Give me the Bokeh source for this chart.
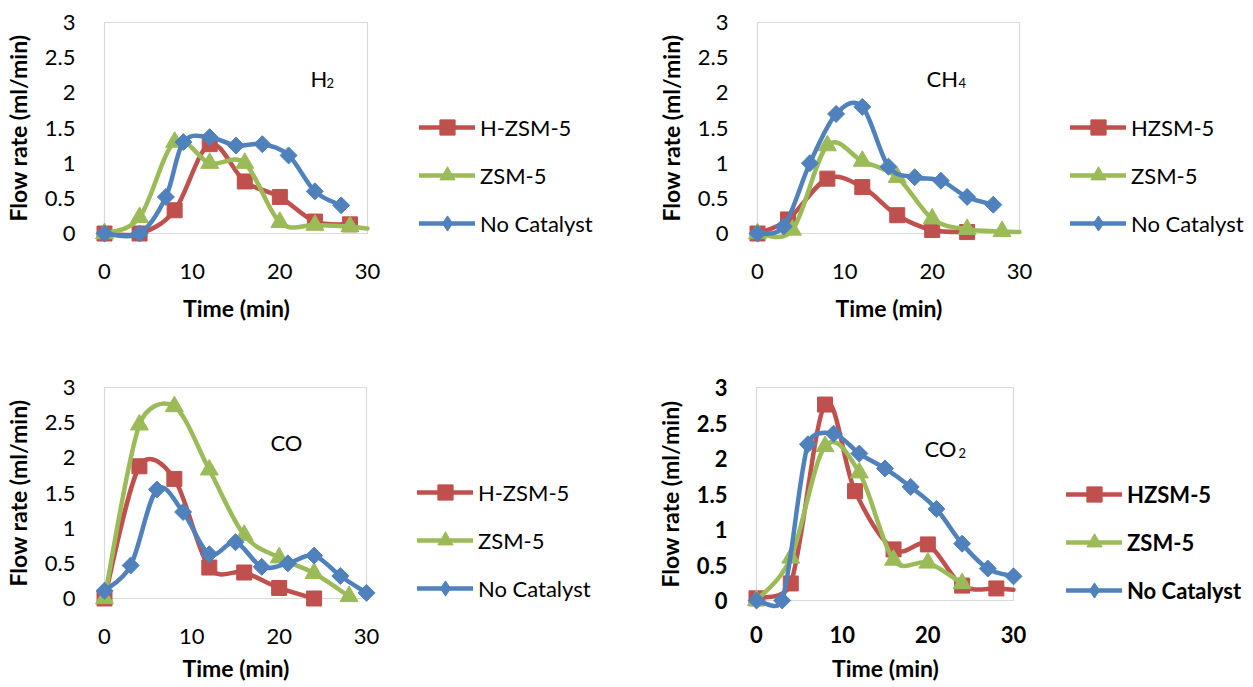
import numpy as np
from bokeh.plotting import figure
from bokeh.models import (Range1d, FixedTicker, Legend, LegendItem, Label,
                          BoxAnnotation, ColumnDataSource)
from bokeh.layouts import column, row
from bokeh.embed import file_html
from bokeh.resources import INLINE

FONT = "Lato"

# ---------------- data ----------------
x_ticks = [0, 10, 20, 30]
x_tick_labels = ["0", "10", "20", "30"]
y_ticks = [0, 0.5, 1, 1.5, 2, 2.5, 3]
y_tick_labels = ["0", "0.5", "1", "1.5", "2", "2.5", "3"]
x_title = "Time (min)"
y_title = "Flow rate (ml/min)"

# H2
h2_hzsm_t = [0, 4, 8, 12, 16, 20, 24, 28]
h2_hzsm_v = [0, 0, 0.33, 1.27, 0.74, 0.52, 0.17, 0.13]
h2_zsm_t = [0, 4, 8, 12, 16, 20, 24, 28, 30]
h2_zsm_v = [0, 0.23, 1.3, 1.0, 1.0, 0.16, 0.12, 0.1, 0.07]
h2_noc_t = [0, 4, 7, 9, 12, 15, 18, 21, 24, 27]
h2_noc_v = [0, 0, 0.52, 1.3, 1.37, 1.25, 1.27, 1.11, 0.6, 0.4]

# CH4
ch4_hzsm_t = [0, 3.5, 8, 12, 16, 20, 24]
ch4_hzsm_v = [0, 0.2, 0.78, 0.66, 0.26, 0.05, 0.02]
ch4_zsm_t = [0, 4, 8, 12, 16, 20, 24, 28, 30]
ch4_zsm_v = [0, 0.05, 1.25, 1.03, 0.8, 0.21, 0.06, 0.03, 0.02]
ch4_noc_t = [0, 3, 6, 9, 12, 15, 18, 21, 24, 27]
ch4_noc_v = [0, 0.1, 1.0, 1.7, 1.8, 0.95, 0.8, 0.75, 0.52, 0.41]

# CO
co_hzsm_t = [0, 4, 8, 12, 16, 20, 24]
co_hzsm_v = [0, 1.88, 1.7, 0.44, 0.37, 0.15, 0.0]
co_zsm_t = [0, 4, 8, 12, 16, 20, 24, 28]
co_zsm_v = [0, 2.47, 2.73, 1.83, 0.9, 0.58, 0.36, 0.03]
co_noc_t = [0, 3, 6, 9, 12, 15, 18, 21, 24, 27, 30]
co_noc_v = [0.11, 0.47, 1.55, 1.23, 0.63, 0.8, 0.45, 0.5, 0.61, 0.32, 0.08]

# CO2
co2_hzsm_t = [0, 4, 8, 11.5, 16, 20, 24, 28, 30]
co2_hzsm_v = [0.03, 0.24, 2.76, 1.54, 0.72, 0.79, 0.21, 0.17, 0.15]
co2_zsm_t = [0, 4, 8, 12, 16, 20, 24]
co2_zsm_v = [0, 0.6, 2.17, 1.8, 0.57, 0.53, 0.24]
co2_noc_t = [0, 3, 6, 9, 12, 15, 18, 21, 24, 27, 30]
co2_noc_v = [0, 0, 2.2, 2.35, 2.07, 1.86, 1.6, 1.29, 0.8, 0.45, 0.34]

# number of points carrying a marker (last point of some series has none)
h2_zsm_marked = 8
ch4_zsm_marked = 8
co2_hzsm_marked = 8

RED, GREEN, BLUE = "#C0504D", "#9BBB59", "#4F81BD"


def smooth_source(t, v, ppx, ppy):
    """Bezier segments in the style of a spreadsheet 'smoothed line'
    (Catmull-Rom handles, capped at half the segment length on screen)."""
    x = np.asarray(t, float)
    y = np.asarray(v, float)
    n = len(x)
    P = np.stack([x * ppx, y * ppy], axis=1)
    Pp = np.vstack([P[:1], P, P[-1:]])
    c0 = np.zeros((n - 1, 2))
    c1 = np.zeros((n - 1, 2))
    for i in range(n - 1):
        p0, p1, p2, p3 = Pp[i], Pp[i + 1], Pp[i + 2], Pp[i + 3]
        d12 = np.hypot(*(p2 - p1))
        d02 = np.hypot(*(p2 - p0))
        d13 = np.hypot(*(p3 - p1))
        f0 = 1 / 6.0 if d02 / 6.0 < d12 / 2.0 else (d12 / 2.0) / d02
        f1 = 1 / 6.0 if d13 / 6.0 < d12 / 2.0 else (d12 / 2.0) / d13
        c0[i] = p1 + (p2 - p0) * f0
        c1[i] = p2 - (p3 - p1) * f1
    return ColumnDataSource(dict(
        x0=x[:-1], y0=y[:-1], x1=x[1:], y1=y[1:],
        cx0=c0[:, 0] / ppx, cy0=c0[:, 1] / ppy,
        cx1=c1[:, 0] / ppx, cy1=c1[:, 1] / ppy,
    ))


# colour, marker, size, angle, legend marker (drawn hidden under the real one)
STYLES = [(RED, "square", 15, 0.0, None),
          (GREEN, "triangle", 18, 0.0, None),
          (BLUE, "square", 12, np.pi / 4, "diamond")]


def make_panel(canvas, frame, series, names, legend_top_left, sym, sym_pos, sub_off,
               bold=False, tick_standoff=12, title_standoff=15):
    pad = 12
    cl, ct, cw, chh = canvas
    fl, fr, ft, fb = frame
    ppx = (fr - fl) / 30.0
    ppy = (fb - ft) / 3.0
    right_edge = cl + cw - 1          # frame reaches almost to the canvas edge (legend lives inside)
    title_w = 106                      # approximate width of the x title text
    p = figure(frame_width=int(right_edge - (fl - pad)), frame_height=int(fb - ft + 2 * pad),
               min_border_left=int(fl - pad - cl), min_border_right=1,
               min_border_top=int(ft - pad - ct), min_border_bottom=int(ct + chh - fb - pad),
               x_range=Range1d(-pad / ppx, 30 + (right_edge - fr) / ppx),
               y_range=Range1d(-pad / ppy, 3 + pad / ppy),
               title=x_title, title_location="below",
               output_backend="svg", toolbar_location=None)
    p.outline_line_color = None
    p.background_fill_color = "white"
    p.border_fill_color = "white"
    p.xgrid.visible = False
    p.ygrid.visible = False

    # x-axis title, centred under the 0-30 box
    p.title.align = "left"
    p.title.offset = ((fl + fr) / 2.0 - title_w / 2.0) - (fl - pad)
    p.title.text_font = FONT
    p.title.text_font_size = "23px"
    p.title.text_font_style = "bold"
    p.title.text_color = "black"
    p.title.vertical_align = "top"
    p.title.standoff = title_standoff

    p.add_layout(BoxAnnotation(left=0, right=30, bottom=0, top=3, fill_alpha=0,
                               line_color="#808080", line_width=1.2, level="underlay"))

    for ax, ticks, labels in ((p.xaxis[0], x_ticks, x_tick_labels), (p.yaxis[0], y_ticks, y_tick_labels)):
        ax.ticker = FixedTicker(ticks=ticks)
        ax.major_label_overrides = {float(k): s for k, s in zip(ticks, labels)}
        ax.axis_line_color = None
        ax.major_tick_line_color = None
        ax.minor_tick_line_color = None
        ax.major_label_text_font = FONT
        ax.major_label_text_font_size = "22px"
        ax.major_label_text_color = "black"
        ax.major_label_text_font_style = "bold" if bold else "normal"
        ax.axis_label_text_font = FONT
        ax.axis_label_text_font_size = "23px"
        ax.axis_label_text_font_style = "bold"
        ax.axis_label_text_color = "black"
    p.yaxis.axis_label = y_title
    p.xaxis.major_label_standoff = tick_standoff
    p.yaxis.major_label_standoff = 11
    p.yaxis.axis_label_standoff = 10

    items = []
    for (t, v, nm), name, (col, mk, sz, ang, lmk) in zip(series, names, STYLES):
        r1 = p.bezier(x0="x0", y0="y0", x1="x1", y1="y1", cx0="cx0", cy0="cy0",
                      cx1="cx1", cy1="cy1", source=smooth_source(t, v, ppx, ppy),
                      line_color=col, line_width=4.5, line_cap="round")
        rl = None
        if lmk is not None:
            rl = p.scatter(t[:nm], v[:nm], marker=lmk, size=15, fill_color=col, line_color=col)
        r2 = p.scatter(t[:nm], v[:nm], marker=mk, size=sz, angle=ang,
                       fill_color=col, line_color=col)
        items.append(LegendItem(label=name, renderers=[r1, rl if rl is not None else r2]))

    gh, sp = 38, 10
    gx, gy = legend_top_left
    lh = 3 * gh + 2 * sp
    leg = Legend(items=items, location=(gx - (fl - pad), (fb + pad) - (gy + lh)),
                 glyph_width=56, glyph_height=gh, label_height=gh, spacing=sp,
                 padding=0, margin=0, label_standoff=5, border_line_color=None,
                 background_fill_alpha=0, inactive_fill_alpha=0,
                 label_text_font=FONT, label_text_font_size="22px",
                 label_text_font_style="bold" if bold else "normal", label_text_color="black")
    p.add_layout(leg)

    sx, sy = sym_pos
    main, sub = sym
    p.add_layout(Label(x=sx, y=sy, text=main, text_font=FONT, text_font_size="22px",
                       text_baseline="alphabetic", text_color="black"))
    if sub:
        p.add_layout(Label(x=sx, y=sy, x_offset=sub_off, y_offset=-4, text=sub, text_font=FONT,
                           text_font_size="13px", text_baseline="alphabetic", text_color="black"))
    return p


names_a = ["H-ZSM-5", "ZSM-5", "No Catalyst"]
names_b = ["HZSM-5", "ZSM-5", "No Catalyst"]

p1 = make_panel((0, 0, 626, 343), (101, 364, 22, 233),
                [(h2_hzsm_t, h2_hzsm_v, len(h2_hzsm_t)), (h2_zsm_t, h2_zsm_v, h2_zsm_marked),
                 (h2_noc_t, h2_noc_v, len(h2_noc_t))],
                names_a, (416, 108), ("H", "2"), (23.5, 2.2), 16, title_standoff=25)
p2 = make_panel((626, 0, 627, 343), (754, 1016, 22, 233),
                [(ch4_hzsm_t, ch4_hzsm_v, len(ch4_hzsm_t)), (ch4_zsm_t, ch4_zsm_v, ch4_zsm_marked),
                 (ch4_noc_t, ch4_noc_v, len(ch4_noc_t))],
                names_b, (1067, 108), ("CH", "4"), (19.35, 2.2), 32, title_standoff=25)
p3 = make_panel((0, 343, 626, 344), (103, 365, 387, 598),
                [(co_hzsm_t, co_hzsm_v, len(co_hzsm_t)), (co_zsm_t, co_zsm_v, len(co_zsm_t)),
                 (co_noc_t, co_noc_v, len(co_noc_t))],
                names_a, (416, 473), ("CO", ""), (19.0, 2.22), 0, title_standoff=14)
p4 = make_panel((626, 343, 627, 344), (755, 1012, 386, 599),
                [(co2_hzsm_t, co2_hzsm_v, co2_hzsm_marked), (co2_zsm_t, co2_zsm_v, len(co2_zsm_t)),
                 (co2_noc_t, co2_noc_v, len(co2_noc_t))],
                names_b, (1065, 474), ("CO", "2"), (19.6, 2.14), 34, bold=True,
                tick_standoff=7, title_standoff=16)

layout = column(row(p1, p2), row(p3, p4))
open("out.html", "w").write(file_html(layout, INLINE))
